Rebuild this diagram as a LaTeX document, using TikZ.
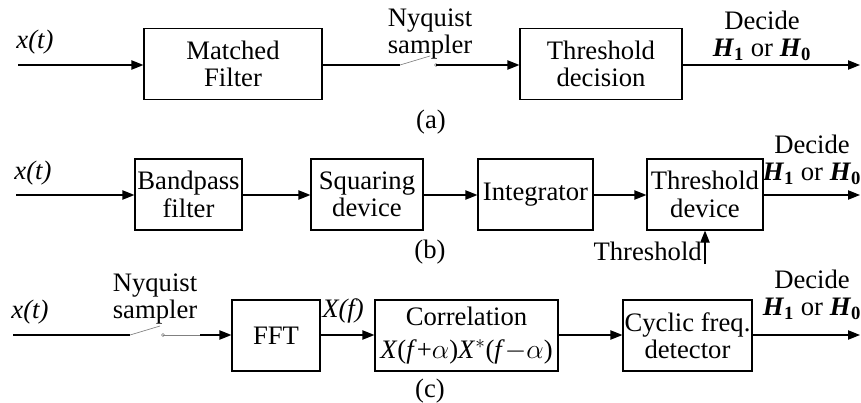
\documentclass[tikz,border=0pt]{standalone}
\usepackage{fontspec}
\setmainfont{Liberation Serif}
\usepackage{tikz}
\usetikzlibrary{arrows.meta}

\begin{document}
\begin{tikzpicture}[x=0.75pt,y=0.75pt,yscale=-1,xscale=1,
  blk/.style={draw,line width=0.9pt,minimum height=71*0.75pt,inner sep=1pt,align=center,font=\fontsize{20}{20.5}\selectfont},
  bw/.style={minimum width=#1*0.75pt},
  lbl/.style={align=center,inner sep=0pt,font=\fontsize{20}{20.5}\selectfont},
  arr/.style={line width=0.9pt,-{Triangle[length=9pt,width=7pt]}},
  ln/.style={line width=0.9pt},
  sw/.style={line width=0.5pt,gray}]
\useasboundingbox (0,0) rectangle (861,403);

%%%%%%%%%%%% (a)
%Shape: Rectangle
\node[blk,bw=178] (mf) at (233,64) {Matched\\Filter};
\node[blk,bw=162] (tdec) at (601,64) {Threshold\\decision};
\coordinate (ina) at (18,65);
\coordinate (outa) at (860,65);
\coordinate (swa1) at (400,65);
\coordinate (swa2) at (436,65);
%Straight Lines
\draw[arr] (ina) -- (ina -| mf.west);
\draw[ln] (mf.east |- swa1) -- (swa1);
\draw[sw] (swa1) -- (430,56);
\draw[sw] (swa2) circle (1.5);
\draw[arr] (swa2) -- (swa2 -| tdec.west);
\draw[arr] (tdec.east |- outa) -- (outa);
% Text Node
\node[lbl] (xa) at (35,42) {\textit{x(t)}};
\node[lbl] (nqa) at (430,34) {Nyquist\\sampler};
\node[lbl] (dca) at (762,36) {Decide\\\textbf{\textit{H}}\textsubscript{\textbf{1}} or \textbf{\textit{H}}\textsubscript{\textbf{0}}};
\node[lbl] (capa) at (431,122) {(a)};

%%%%%%%%%%%% (b)
%Shape: Rectangle
\node[blk,bw=107] (bpf) at (188.5,194.5) {Bandpass\\filter};
\node[blk,bw=112] (sqd) at (367,194.5) {Squaring\\device};
\node[blk,bw=115] (itg) at (535.5,194.5) {Integrator};
\node[blk,bw=116] (thd) at (705,194.5) {Threshold\\device};
\coordinate (inb) at (16,195);
\coordinate (outb) at (860,195);
\coordinate (thin) at (705,264);
%Straight Lines
\draw[arr] (inb) -- (inb -| bpf.west);
\draw[arr] (bpf.east |- inb) -- (inb -| sqd.west);
\draw[arr] (sqd.east |- inb) -- (inb -| itg.west);
\draw[arr] (itg.east |- inb) -- (inb -| thd.west);
\draw[arr] (thd.east |- outb) -- (outb);
\draw[arr] (thin) -- (thd.south);
% Text Node
\node[lbl] (xb) at (33,173) {\textit{x(t)}};
\node[lbl] (dcb) at (812,160) {Decide\\\textbf{\textit{H}}\textsubscript{\textbf{1}} or \textbf{\textit{H}}\textsubscript{\textbf{0}}};
\node[lbl,anchor=east] (thl) at (702,251) {Threshold};
\node[lbl] (capb) at (430,252) {(b)};

%%%%%%%%%%%% (c)
%Shape: Rectangle
\node[blk,bw=88] (fft) at (276,335.5) {FFT};
\node[blk,bw=183] (corr) at (466.5,335.5) {Correlation\\[4pt]\textit{X}(\textit{f}+$\alpha$)\textit{X}$^{*}$(\textit{f}$-$$\alpha$)};
\node[blk,bw=129] (cyc) at (687.5,335.5) {Cyclic freq.\\detector};
\coordinate (inc) at (13,335);
\coordinate (outc) at (860,335);
\coordinate (swc1) at (130,335);
\coordinate (swc2) at (163,335);
\coordinate (swc3) at (200,335);
%Straight Lines
\draw[ln] (inc) -- (swc1);
\draw[sw] (swc1) -- (160,326);
\draw[sw] (swc2) circle (1.5);
\draw[sw] (swc2) -- (swc3);
\draw[arr] (swc3) -- (swc3 -| fft.west);
\draw[arr] (fft.east |- inc) -- (inc -| corr.west);
\draw[arr] (corr.east |- inc) -- (inc -| cyc.west);
\draw[arr] (cyc.east |- outc) -- (outc);
% Text Node
\node[lbl] (xc) at (30,312) {\textit{x(t)}};
\node[lbl] (nqc) at (155,299) {Nyquist\\sampler};
\node[lbl] (xf) at (343,311) {\textit{X(f)}};
\node[lbl] (dcc) at (812,295) {Decide\\\textbf{\textit{H}}\textsubscript{\textbf{1}} or \textbf{\textit{H}}\textsubscript{\textbf{0}}};
\node[lbl] (capc) at (430,391) {(c)};

\end{tikzpicture}
\end{document}
